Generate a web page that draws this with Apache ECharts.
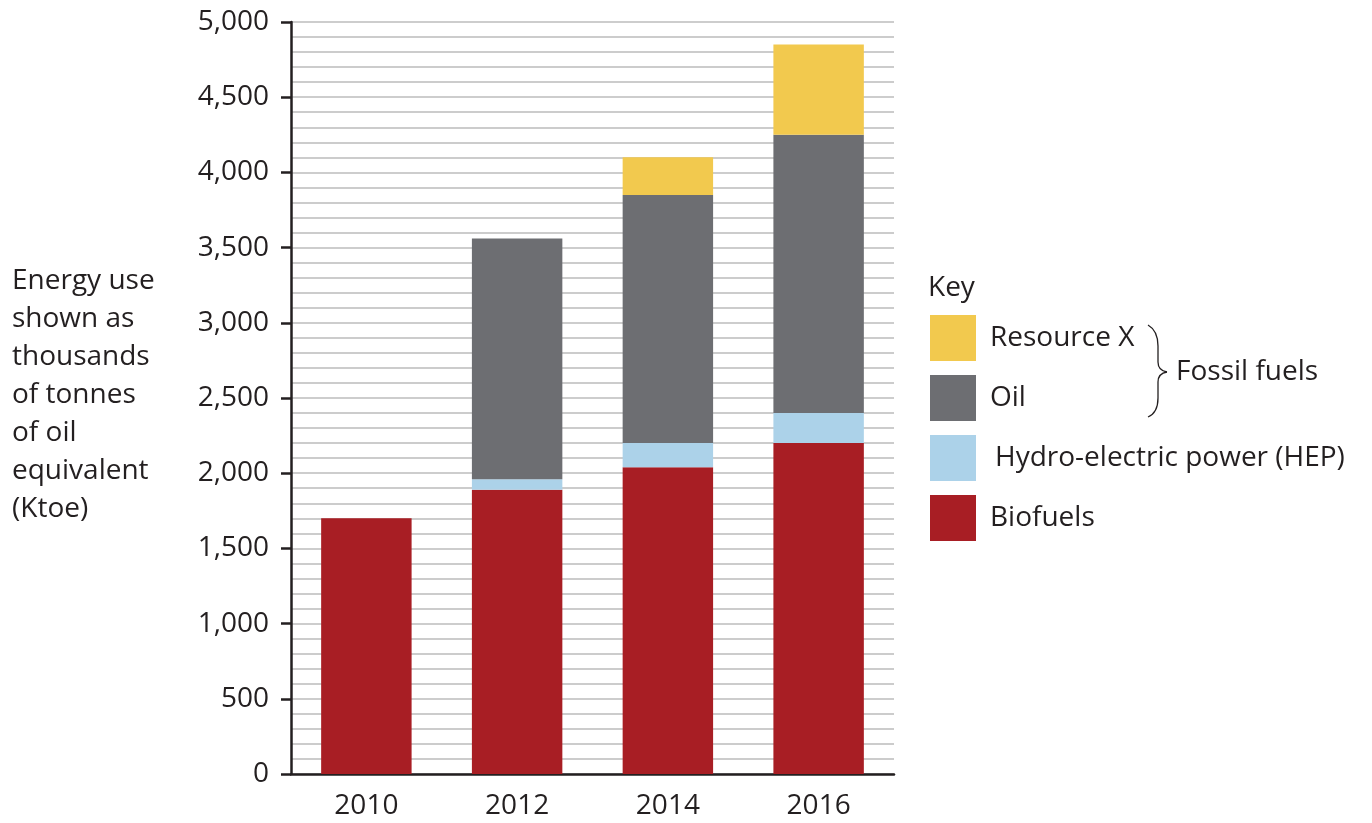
<!DOCTYPE html>
<html>
<head>
<meta charset="utf-8">
<script src="https://cdn.jsdelivr.net/npm/echarts@6/dist/echarts.min.js"></script>
<style>
html,body{margin:0;padding:0;background:#fff;}
#chart{width:1372px;height:823px;}
</style>
</head>
<body>
<div id="chart"></div>
<script>
var years = ['2010', '2012', '2014', '2016'];
var biofuels = [1700, 1890, 2040, 2200];
var hep = [0, 70, 160, 200];
var oil = [0, 1600, 1650, 1850];
var resourceX = [0, 0, 250, 600];
var yTickLabels = ['0', '500', '1,000', '1,500', '2,000', '2,500', '3,000', '3,500', '4,000', '4,500', '5,000'];

var FONT = '"Open Sans", "Noto Sans", sans-serif';
var FS = 28;
var TXT = '#231f20';
var chart = echarts.init(document.getElementById('chart'), null, {renderer: 'canvas'});

function bar(name, data, color) {
  return {
    name: name, type: 'bar', stack: 'total', data: data,
    barWidth: '60%',
    itemStyle: {color: color},
    emphasis: {disabled: true},
    silent: true
  };
}
var braceStyle = {fill: 'none', stroke: TXT, lineWidth: 1.3};
function curve(x1, y1, c1x, c1y, c2x, c2y, x2, y2) {
  return {type: 'bezierCurve', shape: {x1: x1, y1: y1, cpx1: c1x, cpy1: c1y, cpx2: c2x, cpy2: c2y, x2: x2, y2: y2}, style: braceStyle};
}
function seg(x1, y1, x2, y2) {
  return {type: 'line', shape: {x1: x1, y1: y1, x2: x2, y2: y2}, style: braceStyle};
}

chart.setOption({
  animation: false,
  backgroundColor: '#fff',
  grid: {left: 291, right: 478, top: 22, bottom: 49, containLabel: false},
  xAxis: {
    type: 'category',
    data: years,
    axisLine: {show: true, lineStyle: {color: TXT, width: 2.5}},
    axisTick: {show: false},
    axisLabel: {color: TXT, fontFamily: FONT, fontSize: FS, margin: 18}
  },
  yAxis: {
    type: 'value',
    min: 0, max: 5000, interval: 500,
    axisLine: {show: true, lineStyle: {color: TXT, width: 2.5}},
    axisTick: {show: true, length: 10, lineStyle: {color: TXT, width: 2.5}},
    axisLabel: {
      color: TXT, fontFamily: FONT, fontSize: FS, margin: 22,
      formatter: function (v) { return yTickLabels[Math.round(v / 500)]; }
    },
    splitLine: {show: true, lineStyle: {color: '#bcbcbc', width: 1.5}},
    minorTick: {show: false, splitNumber: 5},
    minorSplitLine: {show: true, lineStyle: {color: '#bcbcbc', width: 1.5}}
  },
  legend: {
    orient: 'vertical',
    left: 925, top: 310,
    itemWidth: 46, itemHeight: 46, itemGap: 14,
    icon: 'rect',
    selectedMode: false,
    data: ['Resource X', 'Oil', 'Hydro-electric power (HEP)', 'Biofuels'],
    formatter: function (name) {
      return name === 'Hydro-electric power (HEP)' ? '{h|' + name + '}' : name;
    },
    textStyle: {
      color: TXT, fontFamily: FONT, fontSize: FS, padding: [0, 0, 0, 9],
      rich: {h: {color: TXT, fontFamily: FONT, fontSize: FS, padding: [0, 0, 0, 5]}}
    }
  },
  graphic: [
    {
      type: 'text', left: 12, top: 262,
      style: {
        text: 'Energy use\nshown as\nthousands\nof tonnes\nof oil\nequivalent\n(Ktoe)',
        fill: TXT, font: FS + 'px ' + FONT, lineHeight: 38
      }
    },
    {
      type: 'text', left: 928, top: 274,
      style: {text: 'Key', fill: TXT, font: FS + 'px ' + FONT}
    },
    curve(1148, 325, 1155, 329, 1158, 336, 1158, 346),
    seg(1158, 346, 1158, 362),
    curve(1158, 362, 1158, 368, 1161, 371, 1167, 372),
    curve(1167, 372, 1161, 373, 1158, 376, 1158, 382),
    seg(1158, 382, 1158, 398),
    curve(1158, 398, 1158, 408, 1155, 414, 1148, 417),
    {
      type: 'text', left: 1176, top: 358,
      style: {text: 'Fossil fuels', fill: TXT, font: FS + 'px ' + FONT}
    }
  ],
  series: [
    bar('Biofuels', biofuels, '#a81e24'),
    bar('Hydro-electric power (HEP)', hep, '#acd2e9'),
    bar('Oil', oil, '#6d6e72'),
    bar('Resource X', resourceX, '#f2c94e')
  ]
});
</script>
</body>
</html>
